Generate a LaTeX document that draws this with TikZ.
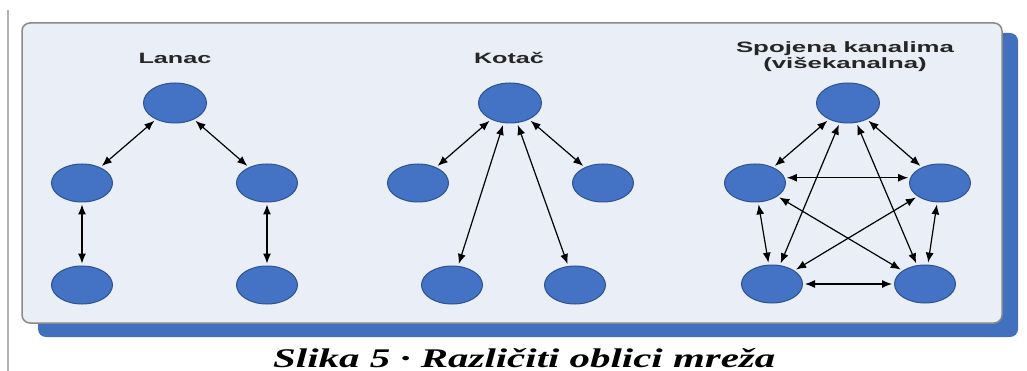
\documentclass[tikz,border=0pt]{standalone}
\usepackage{fontspec}
\setmainfont{Liberation Serif}
\newfontfamily\labfont{Liberation Sans}
\usetikzlibrary{arrows.meta,shapes.geometric}
\definecolor{nodeblue}{HTML}{4472C4}
\definecolor{nodeedge}{HTML}{2F528F}
\definecolor{panelfill}{HTML}{E9EEF7}
\definecolor{panelline}{HTML}{8A8A8A}
\definecolor{shadowblue}{HTML}{4170BE}
\begin{document}
\begin{tikzpicture}[x=1pt,y=-1pt,
  netnode/.style={ellipse, fill=nodeblue, draw=nodeedge, line width=1pt,
    minimum width=61pt, minimum height=38pt, inner sep=0pt},
  topnode/.style={netnode, minimum width=63pt, minimum height=40pt},
  link/.style={>={Latex[length=10pt,width=8pt]}, <->,
    line width=1.2pt, shorten <=2pt, shorten >=2pt},
  heading/.style={anchor=base, inner sep=0pt,
    font=\labfont\fontsize{15}{17}\selectfont\bfseries, text=black!85}
]
% canvas
\fill[white] (0,0) rectangle (1027,371);
\path[use as bounding box] (0,0) rectangle (1027,371);
\draw[gray!60, line width=1.5pt] (8,10) -- (8,371);
% panel with shadow
\fill[shadowblue, rounded corners=8pt] (38,33) rectangle (1018,337);
\draw[panelline, fill=panelfill, line width=1.5pt, rounded corners=8pt]
  (22,23) rectangle (1002,323);

% headings
\node[heading] (hL) at (175,64) {\scalebox{1.68}[1]{Lanac}};
\node[heading] (hK) at (509,64) {\scalebox{1.68}[1]{Kotač}};
\node[heading] (hS1) at (845,53) {\scalebox{1.72}[1]{Spojena kanalima}};
\node[heading] (hS2) at (845,69) {\scalebox{1.72}[1]{(višekanalna)}};

% Lanac
\node[topnode] (LT) at (175,103) {};
\node[netnode] (LL) at (82,183) {};
\node[netnode] (LR) at (267,183) {};
\node[netnode] (LBL) at (82,285) {};
\node[netnode] (LBR) at (267,285) {};
\draw[link] (LT) -- (LL);
\draw[link] (LT) -- (LR);
\draw[link] (LL) -- (LBL);
\draw[link] (LR) -- (LBR);

% Kotac
\node[topnode] (KT) at (510,103) {};
\node[netnode] (KL) at (418,183) {};
\node[netnode] (KR) at (603,183) {};
\node[netnode] (KBL) at (452,285) {};
\node[netnode] (KBR) at (575,285) {};
\draw[link] (KT) -- (KL);
\draw[link] (KT) -- (KR);
\draw[link] (KT) -- (KBL);
\draw[link] (KT) -- (KBR);

% Spojena kanalima
\node[topnode] (ST) at (848,103) {};
\node[netnode] (SL) at (755,183) {};
\node[netnode] (SR) at (940,183) {};
\node[netnode] (SBL) at (772,284) {};
\node[netnode] (SBR) at (925,284) {};
\draw[link] (ST) -- (SL);
\draw[link] (ST) -- (SR);
\draw[link] (ST) -- (SBL);
\draw[link] (ST) -- (SBR);
\draw[link] (SL.10) -- (SR.170);
\draw[link] (SL) -- (SBL);
\draw[link] (SR) -- (SBR);
\draw[link] (SL) -- (SBR);
\draw[link] (SR) -- (SBL);
\draw[link] (SBL) -- (SBR);

% caption
\node[anchor=base west, inner sep=0pt] (cap) at (273,367)
  {\resizebox{502pt}{19pt}{\bfseries\itshape Slika 5 · Različiti oblici mreža}};
\end{tikzpicture}
\end{document}
